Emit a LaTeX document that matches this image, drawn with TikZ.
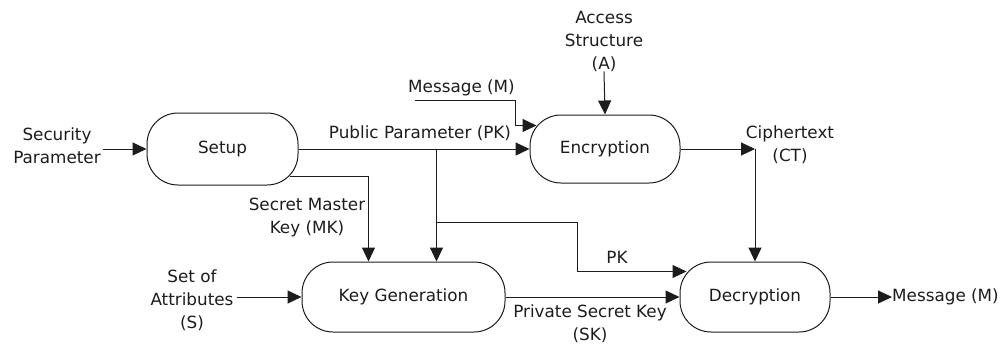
\documentclass[tikz,border=0pt]{standalone}
\usepackage{fontspec}
\setmainfont{DejaVu Sans}
\usetikzlibrary{arrows.meta,calc}
\definecolor{ink}{HTML}{1C1C1C}
\begin{document}
\begin{tikzpicture}[x=1pt,y=-1pt,
  txt/.style={font=\fontsize{16.8}{23}\selectfont, text=ink},
  proc/.style={txt, draw=ink, line width=1pt, rounded corners=31pt, inner sep=0pt},
  lbl/.style={txt, align=center, inner sep=0pt},
  link/.style={draw=ink, line width=1pt},
  arr/.style={link, -{Triangle[length=14pt,width=13pt]}}]
\useasboundingbox (0,0) rectangle (1000,345);

% process blocks
\node[proc, minimum width=151pt, minimum height=72pt] (setup)  at (222.5,149) {Setup};
\node[proc, minimum width=150pt, minimum height=68pt] (enc)    at (605,149)   {Encryption};
\node[proc, minimum width=203pt, minimum height=70pt] (keygen) at (403.5,297) {Key Generation};
\node[proc, minimum width=150pt, minimum height=70pt] (dec)    at (755,297)   {Decryption};

% free-standing labels
\node[lbl] (secpar) at (57,146)   {Security\\Parameter};
\node[lbl] (pp)     at (420,133)  {Public Parameter (PK)};
\node[lbl] (msg)    at (461.5,88) {Message (M)};
\node[lbl] (acc)    at (604,41)   {Access\\Structure\\(A)};
\node[lbl] (ct)     at (790,145)  {Ciphertext\\(CT)};
\node[lbl] (mk)     at (307,218)  {Secret Master\\Key (MK)};
\node[lbl] (pk)     at (617,257)  {PK};
\node[lbl] (soa)    at (192,300)  {Set of\\Attributes\\(S)};
\node[lbl] (sk)     at (590,324)  {Private Secret Key\\(SK)};
\node[lbl, anchor=west] (out) at (892,297) {Message (M)};

% helper points on the rounded borders and at the bends
\coordinate (msgin) at ($(enc.north west)+(7,11)$);
\coordinate (ctc)   at (dec.north |- enc.east);
\coordinate (mkout) at ($(setup.south east)+(-9,-9)$);
\coordinate (mkin)  at ($(keygen.north west)+(67,0)$);
\coordinate (pkin)  at ($(keygen.north west)+(135,0)$);
\coordinate (pkb)   at (pkin |- setup.east);
\coordinate (pkj)   at ($(pkin)+(0,-39)$);
\coordinate (pkbend) at ($(dec.north west)+(-102,-39)$);
\coordinate (decpk) at ($(dec.north west)+(7,10)$);

% connectors
\draw[arr] ($(secpar.east |- setup.west)+(2,0)$) -- (setup.west);
\draw[arr] (setup.east) -- (enc.west);
\draw[arr] ($(msg.south west)+(7,4)$) -- ($(msg.south east)+(1,4)$) |- (msgin);
\draw[arr] (acc.south) -- (enc.north);
\draw[arr] (enc.east) -- (ctc);
\draw[arr] (ctc) -- (dec.north);
\draw[arr] (mkout) -| (mkin);
\draw[arr] (pkb) -- (pkin);
\draw[arr] (pkj) -- (pkbend) |- (decpk);
\draw[arr] ($(soa.east |- keygen.west)+(3,0)$) -- (keygen.west);
\draw[arr] (keygen.east) -- (dec.west);
\draw[arr] (dec.east) -- (out.west);
\end{tikzpicture}
\end{document}
